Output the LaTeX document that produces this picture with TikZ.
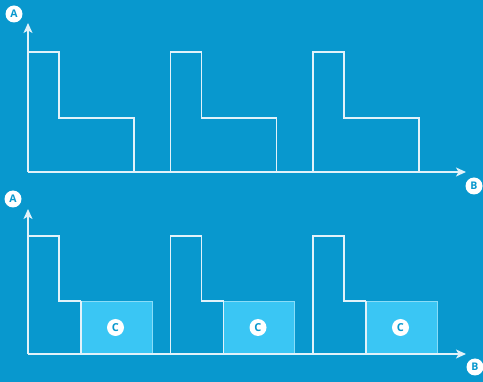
\documentclass[tikz,border=0pt]{standalone}
\usepackage{fontspec}
\setmainfont{Open Sans}
\usetikzlibrary{arrows.meta}
\definecolor{bg}{RGB}{8,152,206}
\definecolor{boxc}{RGB}{58,198,244}
\definecolor{ln}{RGB}{225,242,250}
\tikzset{
  axis/.style={draw=ln, line width=1.2pt, -{Stealth[length=10pt,width=9pt,inset=2.5pt]}},
  prof/.style={draw=ln, line width=1.1pt},
  lbl/.style={circle, fill=white, inner sep=0pt, minimum size=17pt, text=bg, font=\bfseries\fontsize{10.5}{10.5}\selectfont},
  clbl/.style={circle, fill=white, inner sep=0pt, minimum size=17pt, text=bg, font=\bfseries\fontsize{11}{11}\selectfont},
  cbox/.style={fill=boxc, draw=boxc!60!white, line width=0.6pt},
}
\begin{document}
\begin{tikzpicture}[x=1pt,y=-1pt]
\fill[bg] (0,0) rectangle (483,382);
\useasboundingbox (0,0) rectangle (483,382);
% ---------- top panel ----------
\coordinate (o1) at (28,172);
\coordinate (ytip1) at (28,23);
\coordinate (xtip1) at (466,172);
\node[lbl] (A1) at (14,14) {A};
\node[lbl] (B1) at (474,186) {B};
\foreach \x in {28,170.5,313}{
  \draw[prof] (\x,172) -- (\x,52) -- (\x+31,52) -- (\x+31,118) -- (\x+106,118) -- (\x+106,172);
}
\draw[axis] (o1) -- (ytip1);
\draw[axis] (o1) -- (xtip1);
% ---------- bottom panel ----------
\coordinate (o2) at (28,354);
\coordinate (ytip2) at (28,209);
\coordinate (xtip2) at (466,354);
\node[lbl] (A2) at (13,199) {A};
\node[lbl] (B2) at (475,367) {B};
\foreach \x/\n in {28/1,170.5/2,313/3}{
  \draw[cbox] (\x+53,301) rectangle (\x+124,354);
  \node[clbl] (C\n) at (\x+87.5,327.5) {C};
  \draw[prof] (\x,354) -- (\x,236) -- (\x+31,236) -- (\x+31,301) -- (\x+53,301);
  \draw[prof] (\x+53,301) -- (\x+53,354);
}
\draw[axis] (o2) -- (ytip2);
\draw[axis] (o2) -- (xtip2);
\end{tikzpicture}
\end{document}
